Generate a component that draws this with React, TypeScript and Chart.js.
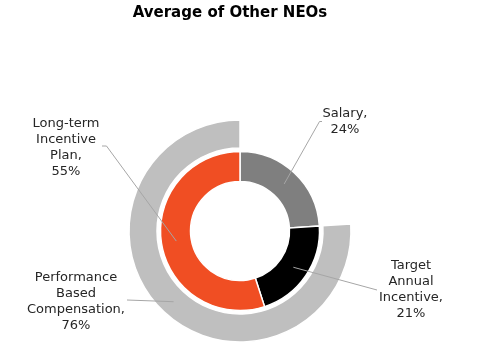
import React, { useEffect, useRef } from "react";
import { Chart, registerables } from "chart.js";

Chart.register(...registerables);

const chartTitle = "Average of Other NEOs";

// Inner ring
const innerCategories = ["Salary", "Target Annual Incentive", "Long-term Incentive Plan"];
const innerValues = [24, 21, 55];
const innerLabelLines = [["Salary,"], ["Target", "Annual", "Incentive,"], ["Long-term", "Incentive", "Plan,"]];

// Outer ring (first slice is the blank part)
const outerCategories = ["", "Performance Based Compensation"];
const outerValues = [24, 76];
const outerLabelLines = [[], ["Performance", "Based", "Compensation,"]];

const innerColors = ["#7F7F7F", "#000000", "#F04E23"];
const outerColors = ["rgba(0,0,0,0)", "#BFBFBF"];

// label layout: dataset index, slice index, text centre x, first line y, leader start, optional elbow
const labelLayout = [
  { ds: 2, i: 0, cx: 345, y: 114, start: [322, 121.5], elbow: [319.5, 121.5] },
  { ds: 2, i: 1, cx: 411, y: 266, start: [377, 290], elbow: null },
  { ds: 2, i: 2, cx: 66, y: 123.5, start: [102, 146], elbow: [106.5, 146] },
  { ds: 0, i: 1, cx: 76, y: 277.5, start: [127, 300], elbow: null },
];

const FONT = '"DejaVu Sans", sans-serif';

export default function App() {
  const ref = useRef<HTMLCanvasElement | null>(null);
  useEffect(() => {
    if (!ref.current) return;
    const labelPlugin = {
      id: "labels",
      afterDatasetsDraw(chart: any) {
        const ctx = chart.ctx as CanvasRenderingContext2D;
        ctx.save();
        // title
        ctx.fillStyle = "#000";
        ctx.font = `bold 15px ${FONT}`;
        ctx.textAlign = "center";
        ctx.textBaseline = "alphabetic";
        ctx.fillText(chartTitle, 230, 16.5);
        // labels
        for (const L of labelLayout) {
          const arc = chart.getDatasetMeta(L.ds).data[L.i];
          const p = arc.tooltipPosition(false);
          ctx.strokeStyle = "#A6A6A6";
          ctx.lineWidth = 1;
          ctx.beginPath();
          ctx.moveTo(L.start[0], L.start[1]);
          if (L.elbow) ctx.lineTo(L.elbow[0], L.elbow[1]);
          ctx.lineTo(p.x, p.y);
          ctx.stroke();
          const isInner = L.ds === 2;
          const lines = isInner ? innerLabelLines[L.i] : outerLabelLines[L.i];
          const val = isInner ? innerValues[L.i] : outerValues[L.i];
          const all = [...lines, `${val}%`];
          ctx.fillStyle = "#262626";
          ctx.font = `13px ${FONT}`;
          ctx.textAlign = "center";
          ctx.textBaseline = "middle";
          all.forEach((t, k) => ctx.fillText(t, L.cx, L.y + k * 16));
        }
        ctx.restore();
      },
    };
    const chart = new Chart(ref.current, {
      type: "doughnut",
      data: {
        labels: innerCategories,
        datasets: [
          {
            label: "Outer",
            data: outerValues,
            backgroundColor: outerColors,
            borderColor: ["rgba(0,0,0,0)", "#FFFFFF"],
            borderWidth: 1.5,
            weight: 28,
          },
          {
            label: "spacer",
            data: [1],
            backgroundColor: ["rgba(0,0,0,0)"],
            borderWidth: 0,
            weight: 3.5,
          },
          {
            label: "Inner",
            data: innerValues,
            backgroundColor: innerColors,
            borderColor: "#FFFFFF",
            borderWidth: 1.5,
            weight: 30,
          },
        ] as any,
      },
      options: {
        responsive: false,
        animation: false,
        radius: 111,
        cutout: "44.6%",
        layout: { padding: { left: 1, right: 0, top: 110, bottom: 7 } },
        plugins: {
          legend: { display: false },
          tooltip: { enabled: false },
          title: { display: false },
        },
        events: [],
      } as any,
      plugins: [labelPlugin],
    });
    return () => chart.destroy();
  }, []);
  return (
    <div style={{ position: "absolute", left: 0, top: 0, width: 479, height: 359, background: "#fff" }}>
      <canvas ref={ref} width={479} height={359} style={{ display: "block" }} />
    </div>
  );
}
